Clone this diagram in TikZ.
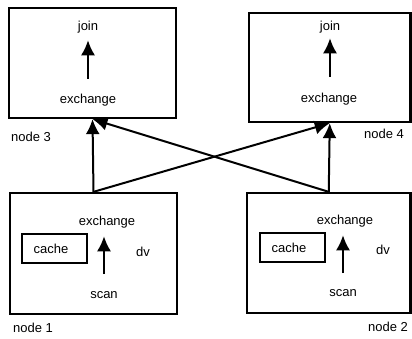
\documentclass[tikz,border=0pt]{standalone}
\usepackage{fontspec}
\setmainfont{Liberation Sans}
\usetikzlibrary{arrows.meta}
\begin{document}
\begin{tikzpicture}[x=1pt,y=-1pt,
  every node/.style={font=\fontsize{13}{15}\selectfont},
  bigbox/.style={draw,line width=2.3pt,rectangle,inner sep=0pt},
  cachebox/.style={draw,line width=2pt,rectangle,inner sep=0pt,minimum width=65pt,minimum height=29pt},
  txt/.style={inner sep=0pt},
  arr/.style={line width=2pt,-{Latex[length=15pt,width=14pt]}}]
\useasboundingbox (0,0) rectangle (412,339);
% big boxes
\node[bigbox,minimum width=167pt,minimum height=110pt] (n3) at (92.5,63) {};
\node[bigbox,minimum width=161.5pt,minimum height=109pt] (n4) at (329.75,67.5) {};
\node[bigbox,minimum width=167pt,minimum height=121pt] (n1) at (93.5,253.5) {};
\node[bigbox,minimum width=163.5pt,minimum height=120pt] (n2) at (328.75,253) {};
% node 3 contents
\node[txt] (join3) at (88,27) {join};
\node[txt] (ex3) at (88,100) {exchange};
\draw[arr,shorten <=15pt,shorten >=7pt] (ex3.north) -- (join3.south);
% node 4 contents
\node[txt] (join4) at (330,27) {join};
\node[txt] (ex4) at (329,99) {exchange};
\draw[arr,shorten <=16pt,shorten >=5pt] (ex4.north -| join4) -- (join4.south);
% node 1 contents
\node[txt] (ex1) at (107,222) {exchange};
\node[txt] (scan1) at (104,295) {scan};
\node[cachebox] (c1) at (54.5,248.5) {};
\node[txt] (ct1) at (51,249) {cache};
\node[txt] (dv1) at (143,252) {dv};
\draw[arr,shorten <=17pt,shorten >=8pt] (scan1.north) -- (scan1.north |- ex1.south);
% node 2 contents
\node[txt] (ex2) at (345,221) {exchange};
\node[txt] (scan2) at (343,293) {scan};
\node[cachebox] (c2) at (292.5,247) {};
\node[txt] (ct2) at (289,248) {cache};
\node[txt] (dv2) at (383,250) {dv};
\draw[arr,shorten <=16pt,shorten >=8pt] (scan2.north) -- (scan2.north |- ex2.south);
% labels
\node[txt,anchor=west] (l3) at (11,137) {node 3};
\node[txt] (l4) at (384,134) {node 4};
\node[txt,anchor=west] (l1) at (13,328) {node 1};
\node[txt] (l2) at (388,327) {node 2};
% connectors
\draw[arr] (n1.north) -- (n3.south);
\draw[arr] (n2.north) -- (n3.south);
\draw[arr] (n1.north) -- (n4.south);
\draw[arr] (n2.north) -- (n4.south);
\end{tikzpicture}
\end{document}
